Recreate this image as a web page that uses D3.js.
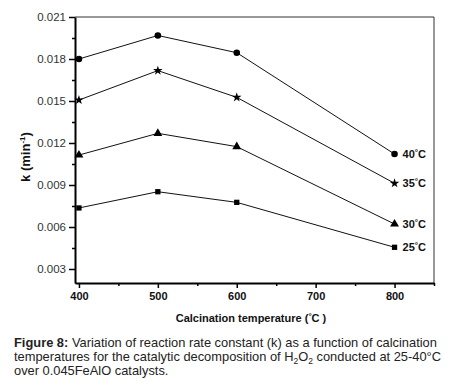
<!DOCTYPE html>
<html><head><meta charset="utf-8">
<script src="https://cdn.jsdelivr.net/npm/d3@7"></script>
<style>body{margin:0;background:#fff}svg{display:block}</style>
</head><body>
<svg id="c" width="450" height="390"></svg>
<script>
const temps = [400, 500, 600, 800];
const seriesNames = ["40", "35", "30", "25"];
const k40 = [0.0180, 0.01968, 0.01845, 0.01121];
const k35 = [0.01507, 0.01717, 0.01526, 0.00912];
const k30 = [0.01114, 0.01269, 0.01174, 0.00621];
const k25 = [0.00736, 0.00852, 0.00776, 0.00455];
const yTicks = [0.003, 0.006, 0.009, 0.012, 0.015, 0.018, 0.021];
const yMinor = [0.0045, 0.0075, 0.0105, 0.0135, 0.0165, 0.0195];
const xTicks = [400, 500, 600, 700, 800];
const xMinor = [450, 550, 650, 750, 850];

const FONT = "Liberation Sans, Arial, sans-serif";
const svg = d3.select("#c");
const L = 75, R = 434, T = 17, B = 283;
const x = d3.scaleLinear().domain([395, 850]).range([L, R]);
const y = d3.scaleLinear().domain([0.002, 0.021]).range([B, T]);

// frame
svg.append("line").attr("x1", L).attr("x2", R).attr("y1", T).attr("y2", T).attr("stroke", "#333").attr("stroke-width", 1);
svg.append("line").attr("x1", R).attr("x2", R).attr("y1", T).attr("y2", B).attr("stroke", "#333").attr("stroke-width", 1);

// axes
const yAxis = svg.append("g").attr("transform", `translate(${L},0)`)
  .call(d3.axisLeft(y).tickValues(yTicks).tickFormat(d3.format(".3f")).tickSize(6).tickSizeOuter(0).tickPadding(3));
yAxis.select(".domain").attr("stroke-width", 2);
yAxis.selectAll(".tick line").attr("stroke-width", 1.5);
yAxis.selectAll("text").attr("font-family", FONT).attr("font-size", 11.5).attr("fill", "#333");
svg.append("g").attr("transform", `translate(${L},0)`)
  .call(d3.axisLeft(y).tickValues(yMinor).tickFormat("").tickSize(3).tickSizeOuter(0))
  .call(g => g.select(".domain").remove())
  .selectAll(".tick line").attr("stroke-width", 1.5);

const xAxis = svg.append("g").attr("transform", `translate(0,${B})`)
  .call(d3.axisBottom(x).tickValues(xTicks).tickFormat(d3.format("d")).tickSize(5).tickSizeOuter(0).tickPadding(4));
xAxis.select(".domain").attr("stroke-width", 2);
xAxis.selectAll(".tick line").attr("stroke-width", 1.5);
xAxis.selectAll("text").attr("font-family", FONT).attr("font-size", 11).attr("font-weight", "bold").attr("fill", "#111");
svg.append("g").attr("transform", `translate(0,${B})`)
  .call(d3.axisBottom(x).tickValues(xMinor).tickFormat("").tickSize(3).tickSizeOuter(0))
  .call(g => g.select(".domain").remove())
  .selectAll(".tick line").attr("stroke-width", 1.5);

// series
const allSeries = [k40, k35, k30, k25];
const symbols = [d3.symbolCircle, d3.symbolStar, d3.symbolTriangle, d3.symbolSquare];
const symSizes = [34, 28, 34, 28];
const line = d3.line().x((d, i) => x(temps[i])).y(d => y(d));
allSeries.forEach((vals, si) => {
  svg.append("path").attr("d", line(vals)).attr("fill", "none").attr("stroke", "#111").attr("stroke-width", 1);
  vals.forEach((v, i) => {
    svg.append("path").attr("d", d3.symbol().type(symbols[si]).size(symSizes[si])())
      .attr("transform", `translate(${x(temps[i])},${y(v)})`).attr("fill", "#000");
  });
  const lt = svg.append("text").attr("x", x(800) + 8).attr("y", y(vals[3]) + 4)
    .attr("font-family", FONT).attr("font-size", 11).attr("font-weight", "bold").attr("fill", "#111");
  lt.append("tspan").text(seriesNames[si]);
  lt.append("tspan").text("°").attr("font-size", 8).attr("dy", -3);
  lt.append("tspan").text("C").attr("dy", 3);
});

// axis titles
const yl = svg.append("text").attr("transform", "translate(30,157) rotate(-90)").attr("text-anchor", "middle")
  .attr("font-family", FONT).attr("font-size", 13).attr("font-weight", "bold").attr("fill", "#111");
yl.append("tspan").text("k (min");
yl.append("tspan").text("-1").attr("font-size", 8).attr("dy", -5);
yl.append("tspan").text(")").attr("dy", 5);

const xl = svg.append("text").attr("x", 251).attr("y", 322).attr("text-anchor", "middle")
  .attr("font-family", FONT).attr("font-size", 11).attr("font-weight", "bold").attr("fill", "#111");
xl.append("tspan").text("Calcination temperature (");
xl.append("tspan").text("°").attr("font-size", 8).attr("dy", -3);
xl.append("tspan").text("C )").attr("dy", 3);

// caption
const cap = svg.append("g").attr("font-family", FONT).attr("font-size", 13.5).attr("fill", "#222");
const c1 = cap.append("text").attr("x", 14).attr("y", 347);
c1.append("tspan").text("Figure 8:").attr("font-weight", "bold");
c1.append("tspan").text(" Variation of reaction rate constant (k) as a function of calcination");
const c2 = cap.append("text").attr("x", 14).attr("y", 361);
c2.append("tspan").text("temperatures for the catalytic decomposition of H");
c2.append("tspan").text("2").attr("font-size", 9).attr("dy", 3);
c2.append("tspan").text("O").attr("dy", -3);
c2.append("tspan").text("2").attr("font-size", 9).attr("dy", 3);
c2.append("tspan").text(" conducted at 25-40°C").attr("dy", -3);
cap.append("text").attr("x", 14).attr("y", 375).text("over 0.045FeAlO catalysts.");
// fit caption width to reference (first line spans ~423px)
const w1 = c1.node().getComputedTextLength();
const fs = 13.5 * 423 / w1;
cap.attr("font-size", fs);
c2.selectAll("tspan").filter((d, i, n) => n[i].textContent === "2").attr("font-size", fs * 0.66);
</script>
</body></html>
